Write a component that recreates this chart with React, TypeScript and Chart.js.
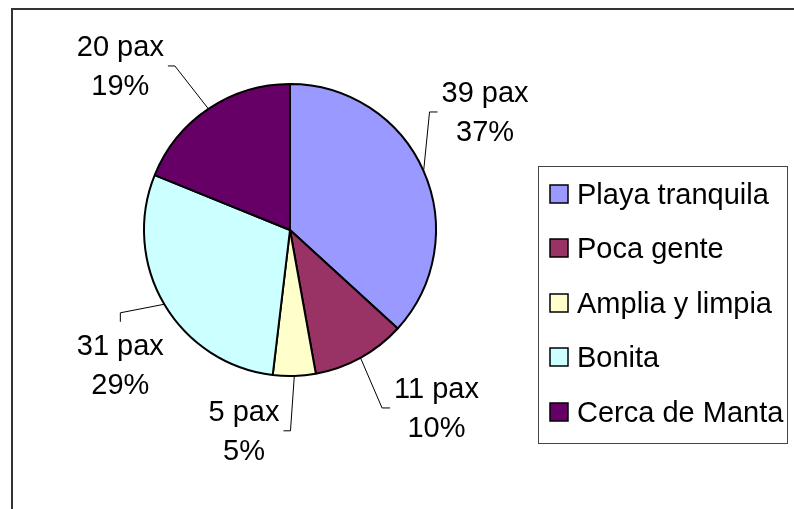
import React, { useEffect, useRef } from 'react';
import { Chart, registerables } from 'chart.js';

Chart.register(...registerables);

const categories = ['Playa tranquila', 'Poca gente', 'Amplia y limpia', 'Bonita', 'Cerca de Manta'];
const paxValues = [39, 11, 5, 31, 20];
const sliceColors = ['#9999FF', '#993366', '#FFFFCC', '#CCFFFF', '#660066'];
const unitLabel = 'pax';

// Label placement (layout only): angular shift from the slice middle (deg),
// distance beyond the rim (px), and the side of the label the leader line attaches to.
const labelPlacement = [
  { shift: -7.4, extra: 82, side: 'left' },
  { shift: -10.6, extra: 84.5, side: 'left' },
  { shift: 14.6, extra: 60, side: 'right' },
  { shift: -7.9, extra: 70.7, side: 'top' },
  { shift: -12, extra: 90, side: 'right' },
];

const FONT = '29px "Liberation Sans", Arial, Helvetica, sans-serif';

const decorPlugin = {
  id: 'decor',
  beforeDraw(chart: any) {
    const ctx = chart.ctx;
    ctx.save();
    ctx.fillStyle = '#ffffff';
    ctx.fillRect(0, 0, chart.width, chart.height);
    ctx.strokeStyle = '#333333';
    ctx.lineWidth = 2;
    ctx.strokeRect(12, 9, 900, 600);
    ctx.restore();
  },
  afterDatasetsDraw(chart: any) {
    const ctx = chart.ctx;
    const ds = chart.data.datasets[0];
    const values = ds.data as number[];
    const total = values.reduce((a, b) => a + b, 0);
    const meta = chart.getDatasetMeta(0);
    const lineH = 39;
    const pad = 4;
    ctx.save();
    ctx.font = FONT;
    meta.data.forEach((arc: any, i: number) => {
      const { x, y, startAngle, endAngle, outerRadius } = arc.getProps(
        ['x', 'y', 'startAngle', 'endAngle', 'outerRadius'],
        true
      );
      const mid = (startAngle + endAngle) / 2;
      const sx = x + Math.cos(mid) * outerRadius;
      const sy = y + Math.sin(mid) * outerRadius;
      const p = labelPlacement[i];
      const la = mid + (p.shift * Math.PI) / 180;
      const ld = outerRadius + p.extra;
      const cx = x + Math.cos(la) * ld;
      const cy = y + Math.sin(la) * ld;
      const lines = [`${values[i]} ${unitLabel}`, `${Math.round((values[i] / total) * 100)}%`];
      const w = Math.max(...lines.map((l) => ctx.measureText(l).width));
      const h = lineH * 2;
      let ex = cx, ey = cy, bx = cx, by = cy;
      if (p.side === 'left') {
        ex = cx - w / 2 - pad; ey = cy; bx = ex - 8; by = ey;
      } else if (p.side === 'right') {
        ex = cx + w / 2 + pad; ey = cy; bx = ex + 7; by = ey;
      } else {
        ex = cx; ey = cy - h / 2 - pad; bx = ex; by = ey - 9;
      }
      ctx.strokeStyle = '#000000';
      ctx.lineWidth = 1;
      ctx.beginPath();
      ctx.moveTo(sx, sy);
      ctx.lineTo(bx, by);
      ctx.lineTo(ex, ey);
      ctx.stroke();
      ctx.fillStyle = '#000000';
      ctx.textAlign = 'center';
      ctx.textBaseline = 'alphabetic';
      ctx.fillText(lines[0], cx, cy - lineH / 2 + 10);
      ctx.fillText(lines[1], cx, cy + lineH / 2 + 10);
    });

    // Legend
    const left = 538.5, top = 166.5, right = 787.5, bottom = 443.5;
    ctx.strokeStyle = '#444444';
    ctx.lineWidth = 1;
    ctx.strokeRect(left, top, right - left, bottom - top);
    const labels = chart.data.labels as string[];
    const step = 54.6;
    const first = 193.5;
    labels.forEach((lab, i) => {
      const iy = first + i * step;
      ctx.fillStyle = (ds.backgroundColor as string[])[i];
      ctx.fillRect(550, Math.round(iy - 9), 18, 18);
      ctx.strokeStyle = '#000000';
      ctx.lineWidth = 1.5;
      ctx.strokeRect(550, Math.round(iy - 9), 18, 18);
      ctx.fillStyle = '#000000';
      ctx.textAlign = 'left';
      ctx.textBaseline = 'alphabetic';
      ctx.fillText(lab, 577, iy + 10);
    });
    ctx.restore();
  },
};

export default function App() {
  const ref = useRef<HTMLCanvasElement | null>(null);
  useEffect(() => {
    if (!ref.current) return;
    const chart = new Chart(ref.current, {
      type: 'pie',
      data: {
        labels: categories,
        datasets: [
          {
            data: paxValues,
            backgroundColor: sliceColors,
            borderColor: '#000000',
            borderWidth: 2,
          },
        ],
      },
      options: {
        responsive: false,
        animation: false,
        devicePixelRatio: 1,
        radius: 146,
        layout: { padding: { left: 0, right: 214, top: 0, bottom: 49 } },
        plugins: {
          legend: { display: false },
          tooltip: { enabled: false },
        },
      } as any,
      plugins: [decorPlugin],
    });
    return () => chart.destroy();
  }, []);
  return (
    <div style={{ position: 'fixed', left: 0, top: 0, width: 794, height: 509, overflow: 'hidden', background: '#fff' }}>
      <canvas ref={ref} width={794} height={509} style={{ display: 'block' }} />
    </div>
  );
}
